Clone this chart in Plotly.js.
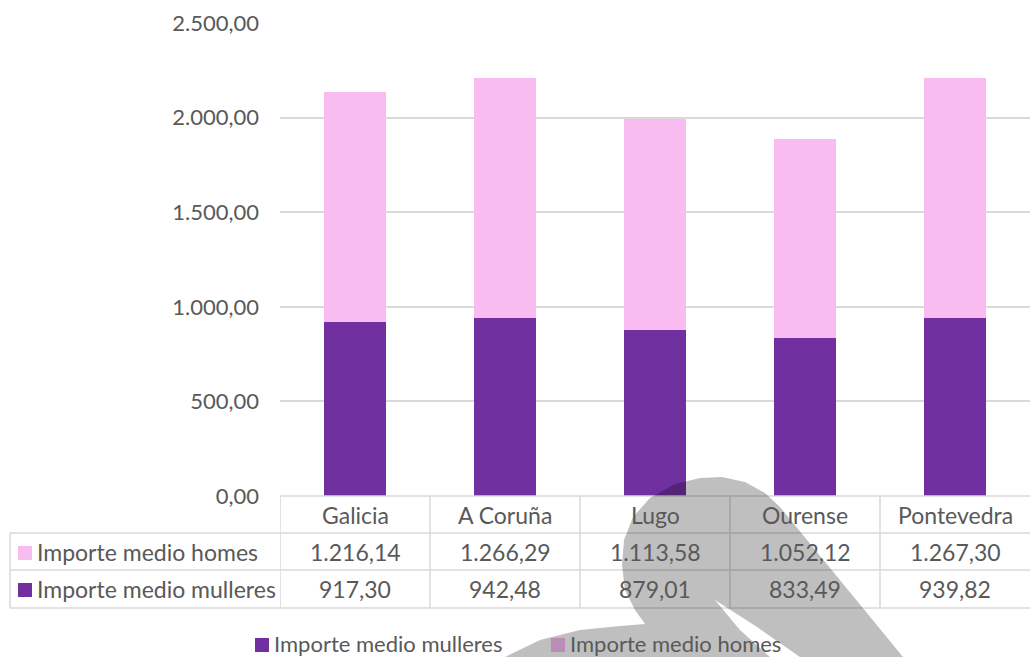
<!DOCTYPE html>
<html>
<head>
<meta charset="utf-8">
<script src="https://cdn.plot.ly/plotly-3.0.1.min.js"></script>
<style>
  html, body { margin: 0; padding: 0; background: #ffffff; }
  #chart { width: 1030px; height: 657px; }
</style>
</head>
<body>
<div id="chart"></div>
<script>
const categories = ["Galicia", "A Coruña", "Lugo", "Ourense", "Pontevedra"];
const mulleres = [917.30, 942.48, 879.01, 833.49, 939.82];
const homes = [1216.14, 1266.29, 1113.58, 1052.12, 1267.30];
const nameMulleres = "Importe medio mulleres";
const nameHomes = "Importe medio homes";
const yTicks = [0, 500, 1000, 1500, 2000, 2500];

const colMulleres = "#7030a0";
const colHomes = "#f9bcf0";
const textCol = "#595959";
const lineCol = "#d9d9d9";
const fontFam = "Lato, 'Open Sans', sans-serif";
const tableSize = 23;

// plot area in page pixels, used to place the table below it
const plotL = 280, plotR = 1030, plotT = 23, plotB = 496;
const px = (x) => (x - plotL) / (plotR - plotL);
const py = (y) => (plotB - y) / (plotB - plotT);

// spanish number format: 1.216,14
function fmt(v) {
    const parts = v.toFixed(2).split(".");
    parts[0] = parts[0].replace(/\B(?=(\d{3})+(?!\d))/g, ".");
    return parts[0] + "," + parts[1];
}

const rowY = { header: 515, homes: 552, mulleres: 589 };
const rowLines = [533, 570, 608];

const shapes = [];
const annotations = [];

// table grid
shapes.push({ type: "line", xref: "paper", yref: "paper", x0: 0, x1: 1, y0: py(496), y1: py(496), line: { color: lineCol, width: 1.5 } });
rowLines.forEach((y) => {
    shapes.push({ type: "line", xref: "paper", yref: "paper", x0: px(10), x1: 1, y0: py(y), y1: py(y), line: { color: lineCol, width: 1.5 } });
});
shapes.push({ type: "line", xref: "paper", yref: "paper", x0: px(10), x1: px(10), y0: py(533), y1: py(608), line: { color: lineCol, width: 1.5 } });
for (let i = 0; i < categories.length; i += 1) {
    shapes.push({ type: "line", xref: "x", yref: "paper", x0: i - 0.5, x1: i - 0.5, y0: py(496), y1: py(608), line: { color: lineCol, width: 1.5 } });
}

// key squares inside the table
shapes.push({ type: "rect", xref: "paper", yref: "paper", x0: px(18), x1: px(32), y0: py(546), y1: py(560), fillcolor: colHomes, line: { width: 0 } });
shapes.push({ type: "rect", xref: "paper", yref: "paper", x0: px(18), x1: px(32), y0: py(583), y1: py(597), fillcolor: colMulleres, line: { width: 0 } });

// bottom legend squares
shapes.push({ type: "rect", xref: "paper", yref: "paper", x0: px(255), x1: px(269), y0: py(638), y1: py(652), fillcolor: colMulleres, line: { width: 0 } });
shapes.push({ type: "rect", xref: "paper", yref: "paper", x0: px(551), x1: px(565), y0: py(638), y1: py(652), fillcolor: colHomes, line: { width: 0 } });

// grey watermark over the lower right
const mark = [
    [500, 670], [505, 657], [540, 640], [580, 630], [620, 626], [645, 624],
    [635, 610], [625, 590], [622, 565], [624, 540], [633, 517], [650, 498],
    [675, 484], [700, 478], [722, 477], [745, 482], [765, 493], [780, 507],
    [903, 657], [912, 670], [810, 670], [800, 657], [757, 627], [715, 600],
    [740, 630], [770, 657], [775, 670]
];
const markPath = mark.map((p, i) => (i === 0 ? "M" : "L") + px(p[0]).toFixed(4) + "," + py(p[1]).toFixed(4)).join(" ") + " Z";
shapes.push({ type: "path", xref: "paper", yref: "paper", path: markPath, fillcolor: "rgba(0,0,0,0.25)", line: { width: 0 }, layer: "above" });

const txt = (size) => ({ family: fontFam, size: size, color: textCol });

categories.forEach((c, i) => {
    annotations.push({ xref: "x", yref: "paper", x: i, y: py(rowY.header), text: c, showarrow: false, font: txt(tableSize), xanchor: "center", yanchor: "middle" });
    annotations.push({ xref: "x", yref: "paper", x: i, y: py(rowY.homes), text: fmt(homes[i]), showarrow: false, font: txt(tableSize), xanchor: "center", yanchor: "middle" });
    annotations.push({ xref: "x", yref: "paper", x: i, y: py(rowY.mulleres), text: fmt(mulleres[i]), showarrow: false, font: txt(tableSize), xanchor: "center", yanchor: "middle" });
});
annotations.push({ xref: "paper", yref: "paper", x: px(35), y: py(rowY.homes), text: nameHomes, showarrow: false, font: txt(tableSize), xanchor: "left", yanchor: "middle" });
annotations.push({ xref: "paper", yref: "paper", x: px(35), y: py(rowY.mulleres), text: nameMulleres, showarrow: false, font: txt(tableSize), xanchor: "left", yanchor: "middle" });
annotations.push({ xref: "paper", yref: "paper", x: px(272), y: py(643), text: nameMulleres, showarrow: false, font: txt(22), xanchor: "left", yanchor: "middle" });
annotations.push({ xref: "paper", yref: "paper", x: px(568), y: py(643), text: nameHomes, showarrow: false, font: txt(22), xanchor: "left", yanchor: "middle" });

const data = [
    {
        x: categories,
        y: mulleres,
        name: nameMulleres,
        type: "bar",
        width: 0.41,
        marker: { color: colMulleres },
        hovertemplate: "%{x}<br>%{y:,.2f}<extra>" + nameMulleres + "</extra>",
    },
    {
        x: categories,
        y: homes,
        name: nameHomes,
        type: "bar",
        width: 0.41,
        marker: { color: colHomes },
        hovertemplate: "%{x}<br>%{y:,.2f}<extra>" + nameHomes + "</extra>",
    },
];

const layout = {
    width: 1030,
    height: 657,
    margin: { l: plotL, r: 1030 - plotR, t: plotT, b: 657 - plotB },
    paper_bgcolor: "#ffffff",
    plot_bgcolor: "rgba(0,0,0,0)",
    barmode: "stack",
    separators: ",.",
    showlegend: false,
    font: { family: fontFam, color: textCol, size: 20 },
    xaxis: {
        type: "category",
        range: [-0.5, categories.length - 0.5],
        showticklabels: false,
        showgrid: false,
        zeroline: false,
        showline: false,
        ticks: "",
    },
    yaxis: {
        range: [0, 2500],
        tickvals: yTicks,
        tickformat: ",.2f",
        showgrid: true,
        gridcolor: lineCol,
        gridwidth: 1.5,
        zeroline: false,
        showline: false,
        ticks: "",
        ticklabelstandoff: 20,
        tickfont: { family: fontFam, size: 22, color: textCol },
    },
    shapes: shapes,
    annotations: annotations,
};

Plotly.newPlot("chart", data, layout, { displayModeBar: false, responsive: false });
</script>
</body>
</html>
